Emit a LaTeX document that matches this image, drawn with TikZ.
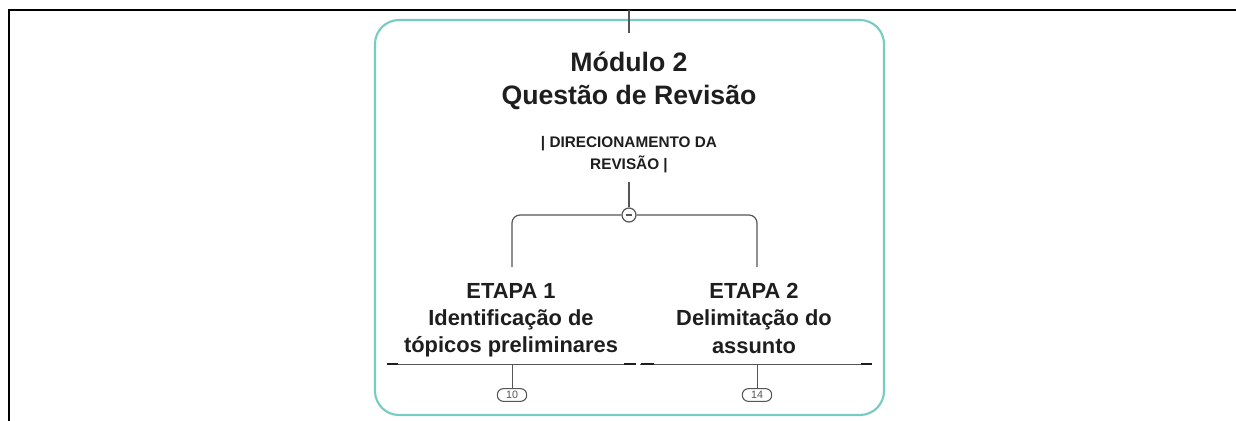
\documentclass[tikz,border=0pt]{standalone}
\usepackage{fontspec}
\setmainfont{Liberation Sans}
\definecolor{boxteal}{RGB}{118,204,194}
\definecolor{linegray}{RGB}{85,85,85}
\definecolor{inkdark}{RGB}{30,30,30}
\begin{document}
\begin{tikzpicture}[x=0.75pt,y=-0.75pt,
  every node/.style={text=inkdark,align=center},
  titletext/.style={font=\fontsize{20}{24.5}\selectfont\bfseries},
  dirtext/.style={font=\fontsize{11.5}{16.5}\selectfont\bfseries,inner sep=6pt},
  etapatext/.style={font=\fontsize{16.4}{20.5}\selectfont\bfseries,anchor=north,inner sep=0pt},
  hubdot/.style={circle,draw=linegray,line width=0.9pt,fill=white,minimum size=10.5pt,inner sep=0pt,
    path picture={\draw[linegray,line width=0.8pt] ([xshift=-2.6pt]path picture bounding box.center) -- ([xshift=2.6pt]path picture bounding box.center);}},
  countbadge/.style={draw=linegray,line width=0.8pt,rounded corners=4.5pt,minimum width=22pt,minimum height=9.5pt,
    inner sep=0pt,font=\fontsize{8}{8}\selectfont,text=linegray,fill=white},
  link/.style={draw=linegray,line width=0.9pt}]
\useasboundingbox (0,0) rectangle (1236,421);
% page frame (top and left only)
\draw[black,line width=2.2pt] (9,421) -- (9,10) -- (1236,10);
% module box
\draw[boxteal,line width=1.6pt,rounded corners=18pt] (375,20) rectangle (884,415);
\coordinate (entry) at (629,10);
\coordinate (entryend) at (629,33);
\draw[link] (entry) -- (entryend);

\node[titletext] (title) at (629,81) {Módulo 2\\Questão de Revisão};
\node[dirtext] (dir) at (629,155) {| DIRECIONAMENTO DA\\REVISÃO |};
\node[hubdot] (hub) at (629,215) {};
\draw[link] (dir.south) -- (hub.north);

\node[etapatext] (e1) at (511,283) {ETAPA 1\\Identificação de\\tópicos preliminares};
\node[etapatext] (e2) at (754,283) {ETAPA 2\\Delimitação do\\assunto};
\coordinate (e1top) at (512,267);
\coordinate (e2top) at (757,267);
\draw[link,rounded corners=6pt] (hub.west) -| (e1top);
\draw[link,rounded corners=6pt] (hub.east) -| (e2top);

% underlines
\draw[linegray,line width=0.7pt] (387,364) -- (636,364);
\draw[linegray,line width=0.7pt] (640,364) -- (872,364);
\foreach \a/\b in {387/398,624/636,641/654,861/872}
  \draw[inkdark,line width=1.6pt] (\a,364) -- (\b,364);

\node[countbadge] (b1) at (512,395) {10};
\node[countbadge] (b2) at (757,395) {14};
\coordinate (u1) at (512,364);
\coordinate (u2) at (757,364);
\draw[link,line width=0.7pt] (u1) -- (b1.north);
\draw[link,line width=0.7pt] (u2) -- (b2.north);
\end{tikzpicture}
\end{document}
